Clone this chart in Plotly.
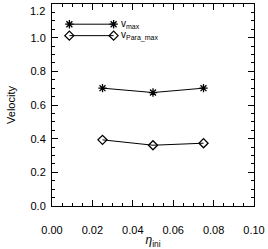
import plotly.graph_objects as go

eta_ini = [0.025, 0.05, 0.075]
v_max = [0.70, 0.674, 0.70]
v_para_max = [0.393, 0.361, 0.373]

x_ticks = [0.00, 0.02, 0.04, 0.06, 0.08, 0.10]
x_ticklabels = ["0.00", "0.02", "0.04", "0.06", "0.08", "0.10"]
y_ticks = [0.0, 0.2, 0.4, 0.6, 0.8, 1.0, 1.2]
y_ticklabels = ["0.0", "0.2", "0.4", "0.6", "0.8", "1.0", "1.2"]

legend_names = ["v<sub>max</sub>", "v<sub>Para_max</sub>"]
legend_symbols = ["asterisk-open", "diamond-open"]

FONT = "Liberation Sans, Arial, sans-serif"

# legend sample layout (IDL-style legend drawn inside the plot)
LEG_X = [0.0086, 0.0305]
LEG_Y = [1.08, 1.012]

fig = go.Figure()
for yvals, sym in zip([v_max, v_para_max], legend_symbols):
    fig.add_trace(go.Scatter(x=eta_ini, y=yvals, mode="lines+markers",
                             line=dict(color="black", width=1),
                             marker=dict(symbol=sym, size=7, color="black",
                                         line=dict(color="black", width=1.3)),
                             showlegend=False))

for name, sym, yy in zip(legend_names, legend_symbols, LEG_Y):
    fig.add_trace(go.Scatter(x=LEG_X, y=[yy, yy], mode="lines+markers",
                             xaxis="x2", yaxis="y2",
                             line=dict(color="black", width=1),
                             marker=dict(symbol=sym, size=7, color="black",
                                         line=dict(color="black", width=1.3)),
                             showlegend=False, cliponaxis=False))
    fig.add_annotation(x=LEG_X[1], y=yy, xref="x", yref="y", xshift=5,
                       text=name, showarrow=False, xanchor="left", yanchor="middle",
                       font=dict(family=FONT, size=10, color="black"))

tick_common = dict(showgrid=False, zeroline=False, showline=True, linecolor="black",
                   linewidth=1, ticks="inside", ticklen=6,
                   tickcolor="black", tickwidth=1, ticklabeloverflow="allow",
                   tickfont=dict(family=FONT, size=11, color="black"))
x_minor = dict(dtick=0.005, ticks="inside", ticklen=3, tickcolor="black")
y_minor = dict(dtick=0.05, ticks="inside", ticklen=3, tickcolor="black")

# top label placed like IDL (kept inside the window)
y_ticktext = y_ticklabels[:-1] + [""]
fig.add_annotation(x=0, y=1, xref="paper", yref="paper", xanchor="right", yanchor="middle",
                   xshift=-5, yshift=-7, text=y_ticklabels[-1], showarrow=False,
                   font=dict(family=FONT, size=11, color="black"))

fig.update_layout(
    width=268, height=249,
    margin=dict(l=52, r=14, t=4, b=43, autoexpand=False),
    paper_bgcolor="white", plot_bgcolor="white",
    xaxis=dict(range=[0, 0.10], tickvals=x_ticks, ticktext=x_ticklabels,
               ticklabelstandoff=14, minor=x_minor, mirror=False,
               title=dict(text="<i>η</i><sub>ini</sub>", font=dict(family=FONT, size=12, color="black"),
                          standoff=2),
               **tick_common),
    yaxis=dict(range=[0, 1.2], tickvals=y_ticks, ticktext=y_ticktext,
               ticklabelstandoff=3, minor=y_minor, mirror=False,
               title=dict(text="Velocity", font=dict(family=FONT, size=11, color="black"),
                          standoff=12),
               **tick_common),
    xaxis2=dict(range=[0, 0.10], matches="x", overlaying="x", side="top", anchor="y2",
                tickvals=x_ticks, showticklabels=False, minor=x_minor, **tick_common),
    yaxis2=dict(range=[0, 1.2], matches="y", overlaying="y", side="right", anchor="x2",
                tickvals=y_ticks, showticklabels=False, minor=y_minor, **tick_common),
)

fig.write_html("out.html", config={"displayModeBar": False},
               post_script="document.body.style.margin='0';document.body.style.overflow='hidden';")
